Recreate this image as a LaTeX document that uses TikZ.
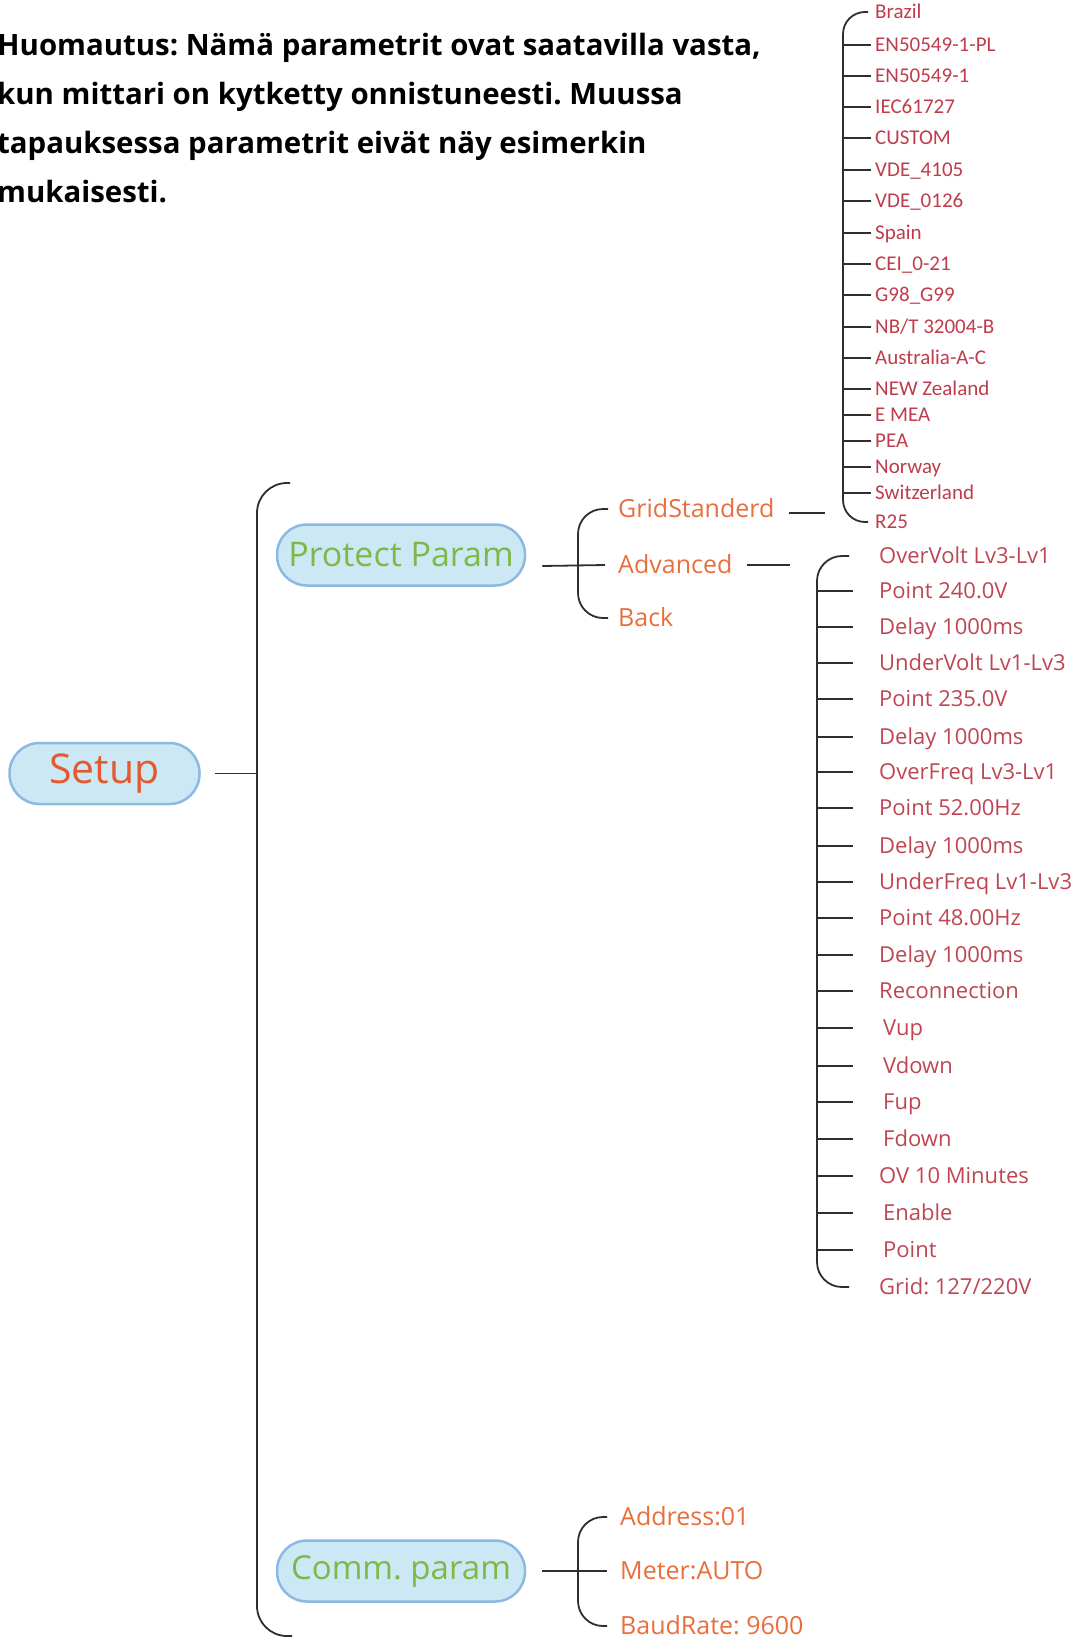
\documentclass[tikz,border=0pt]{standalone}
\usepackage{fontspec}
\setmainfont{Open Sans}
\newfontfamily\calib{Carlito}
\frenchspacing
\definecolor{setupc}{RGB}{228,90,48}
\definecolor{greenc}{RGB}{125,185,70}
\definecolor{orangec}{RGB}{232,110,60}
\definecolor{redc}{RGB}{190,70,82}
\definecolor{gredc}{RGB}{190,60,75}
\definecolor{pillfill}{RGB}{204,232,245}
\definecolor{pillborder}{RGB}{140,185,225}
\definecolor{linec}{RGB}{50,45,45}
\begin{document}
\begin{tikzpicture}[x=1pt,y=-1pt,
  head/.style={anchor=base west,inner sep=0pt,font=\fontsize{29.4}{36}\selectfont\bfseries,text=black},
  pill/.style={draw=pillborder,line width=2.5pt,fill=pillfill,rounded corners=30pt,minimum height=61pt,inner sep=0pt},
  sub/.style={anchor=west,inner sep=0pt,text height=17.9pt,text depth=0pt,text=orangec,font=\fontsize{25}{30}\selectfont},
  gitem/.style={anchor=west,inner sep=0pt,text height=13.5pt,text depth=0pt,text=gredc,font=\calib\fontsize{21}{24}\selectfont},
  aitem/.style={anchor=west,inner sep=0pt,text height=15.7pt,text depth=0pt,text=redc,font=\fontsize{22}{26}\selectfont},
  conn/.style={draw=linec,line width=1.8pt}]
\useasboundingbox (0,0) rectangle (1073,1638);

% heading
\node[head] (h1) at (-3,55) {Huomautus: Nämä parametrit ovat saatavilla vasta,};
\node[head] (h2) at (-3,104) {kun mittari on kytketty onnistuneesti. Muussa};
\node[head] (h3) at (-3,153) {tapauksessa parametrit eivät näy esimerkin};
\node[head] (h4) at (-3,202) {mukaisesti.};

% main nodes
\node[pill,minimum width=190pt,text=setupc,font=\fontsize{41}{45}\selectfont] (setup) at (104.5,773.5) {Setup};
\node[pill,minimum width=248pt,text=greenc,font=\fontsize{34}{38}\selectfont] (protect) at (401,555) {Protect Param};
\node[pill,minimum width=248pt,text=greenc,font=\fontsize{33}{38}\selectfont] (comm) at (401,1571) {Comm. param};

% main brace
\coordinate (mbtop) at (290,483);
\coordinate (mbbot) at (292,1636);
\coordinate (mbmid) at (257,773.5);
\draw[conn,rounded corners=30pt] (mbtop) -- (257,483) -- (257,1636) -- (mbbot);
\draw[conn] ([xshift=14pt]setup.east) -- (mbmid);

% protect param children
\node[sub] (gs) at (618,509) {GridStanderd};
\node[sub] (adv) at (618,565) {Advanced};
\node[sub] (back) at (618,618) {Back};
\draw[conn,rounded corners=25pt] ([xshift=-10pt]gs.west) -- ++(-30,0) -- ([xshift=-40pt]back.west) -- ([xshift=-10pt]back.west);
\draw[conn] ([xshift=16pt,yshift=-11pt]protect.east) -- ([xshift=-13pt]adv.west);

% comm param children
\node[sub] (addr) at (620,1517) {Address:01};
\node[sub] (meter) at (620,1571) {Meter:AUTO};
\node[sub] (baud) at (620,1626) {BaudRate: 9600};
\draw[conn,rounded corners=25pt] ([xshift=-13pt]addr.west) -- ++(-29,0) -- ([xshift=-42pt]baud.west) -- ([xshift=-13pt]baud.west);
\draw[conn] ([xshift=16pt]comm.east) -- ([xshift=-13pt]meter.west);

% grid standards
\node[gitem] (g1) at (875,12) {Brazil};
\node[gitem] (g2) at (875,45) {EN50549-1-PL};
\node[gitem] (g3) at (875,76) {EN50549-1};
\node[gitem] (g4) at (875,107) {IEC61727};
\node[gitem] (g5) at (875,138) {CUSTOM};
\node[gitem] (g6) at (875,170) {VDE\_4105};
\node[gitem] (g7) at (875,201) {VDE\_0126};
\node[gitem] (g8) at (875,233) {Spain};
\node[gitem] (g9) at (875,264) {CEI\_0-21};
\node[gitem] (g10) at (875,295) {G98\_G99};
\node[gitem] (g11) at (875,327) {NB/T 32004-B};
\node[gitem] (g12) at (875,358) {Australia-A-C};
\node[gitem] (g13) at (875,389) {NEW Zealand};
\node[gitem] (g14) at (875,415) {E MEA};
\node[gitem] (g15) at (875,441) {PEA};
\node[gitem] (g16) at (875,467) {Norway};
\node[gitem] (g17) at (875,493) {Switzerland};
\node[gitem] (g18) at (875,522) {R25};
\coordinate (gv) at (843,0);
\coordinate (ge) at (871,0);
\draw[conn,rounded corners=22pt] ([xshift=-7pt]g1.west) -- (g1.west -| gv) -- (g18.west -| gv) -- ([xshift=-7pt]g18.west);
\foreach \i in {2,...,17} {\draw[conn] (g\i.west -| gv) -- (g\i.west -| ge);}
\coordinate (gsj) at (825,0);
\draw[conn] ([xshift=14pt,yshift=-4pt]gs.east) -- ([yshift=-4pt]gs.east -| gsj);

% advanced items
\node[aitem] (a1) at (879,556) {OverVolt Lv3-Lv1};
\node[aitem] (a2) at (879,591) {Point 240.0V};
\node[aitem] (a3) at (879,627) {Delay 1000ms};
\node[aitem] (a4) at (879,663) {UnderVolt Lv1-Lv3};
\node[aitem] (a5) at (879,699) {Point 235.0V};
\node[aitem] (a6) at (879,737) {Delay 1000ms};
\node[aitem] (a7) at (879,772) {OverFreq Lv3-Lv1};
\node[aitem] (a8) at (879,808) {Point 52.00Hz};
\node[aitem] (a9) at (879,846) {Delay 1000ms};
\node[aitem] (a10) at (879,882) {UnderFreq Lv1-Lv3};
\node[aitem] (a11) at (879,918) {Point 48.00Hz};
\node[aitem] (a12) at (879,955) {Delay 1000ms};
\node[aitem] (a13) at (879,991) {Reconnection};
\node[aitem] (a14) at (883,1028) {Vup};
\node[aitem] (a15) at (883,1066) {Vdown};
\node[aitem] (a16) at (883,1102) {Fup};
\node[aitem] (a17) at (883,1139) {Fdown};
\node[aitem] (a18) at (879,1176) {OV 10 Minutes};
\node[aitem] (a19) at (883,1213) {Enable};
\node[aitem] (a20) at (883,1250) {Point};
\node[aitem] (a21) at (879,1287) {Grid: 127/220V};
\coordinate (av) at (817,0);
\coordinate (ae) at (853,0);
\coordinate (ac) at (849,0);
\draw[conn,rounded corners=25pt] (a1.west -| ac) -- (a1.west -| av) -- (a21.west -| av) -- (a21.west -| ac);
\foreach \i in {2,...,20} {\draw[conn] (a\i.west -| av) -- (a\i.west -| ae);}
\coordinate (advj) at (790,0);
\draw[conn] ([xshift=14pt]adv.east) -- (adv.east -| advj);
\end{tikzpicture}
\end{document}
